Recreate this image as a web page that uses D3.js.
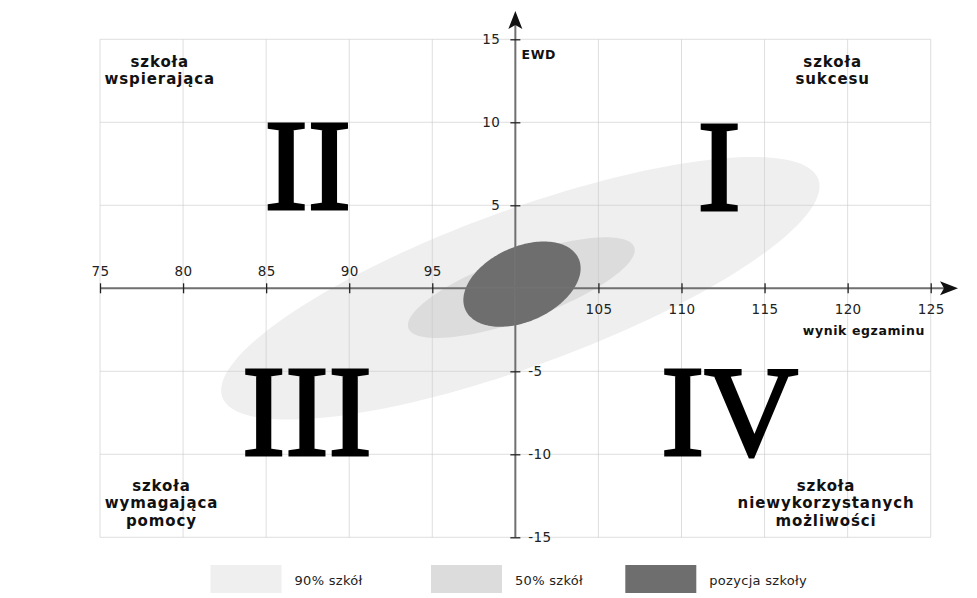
<!DOCTYPE html>
<html><head><meta charset="utf-8">
<script src="https://cdn.jsdelivr.net/npm/d3@7"></script>
<style>
html,body{margin:0;padding:0;background:#fff;}
svg{display:block;}
text{font-family:"DejaVu Sans",sans-serif;}
</style></head>
<body>
<svg id="chart" width="977" height="598"></svg>
<script>
// ---- data ----
const xDomain = [75, 125];
const yDomain = [-15, 15];
const xTicksLeft = [75, 80, 85, 90, 95];
const xTicksRight = [105, 110, 115, 120, 125];
const yTicksUpper = [15, 10, 5];
const yTicksLower = [-5, -10, -15];
const gridX = [75, 80, 85, 90, 95, 100, 105, 110, 115, 120, 125];
const gridY = [-15, -10, -5, 0, 5, 10, 15];

// ellipses: center, semi-axes, rotation
const ellipseNames = ["90% szkół", "50% szkół", "pozycja szkoły"];
const ellipseCenterX = [100.3, 100.36, 100.4];
const ellipseCenterY = [0.0, 0.04, 0.25];
const ellipseA = [19.1, 7.22, 3.74];
const ellipseB = [4.7, 1.91, 2.25];
const ellipseAngle = [20.1, 19.75, 24.5];
const ellipseColors = ["#efefef", "#dcdcdc", "#6e6e6e"];

const romanLabels = ["I", "II", "III", "IV"];
const romanX = [112.27, 87.51, 87.45, 112.9];
const romanY = [4.72, 4.77, -10.07, -10.07];

const quadrantLines = [
  ["szkoła", "wspierająca"],
  ["szkoła", "sukcesu"],
  ["szkoła", "wymagająca", "pomocy"],
  ["szkoła", "niewykorzystanych", "możliwości"]
];
const quadrantX = [78.6, 119.1, 78.7, 118.7];
const quadrantY = [13.35, 13.35, -12.2, -12.2];

const xAxisTitle = "wynik egzaminu";
const yAxisTitle = "EWD";

// ---- drawing ----
const svg = d3.select("#chart");
const x = d3.scaleLinear().domain(xDomain).range([100, 930.7]);
const y = d3.scaleLinear().domain(yDomain).range([537.3, 39.3]);
const X0 = x(100), Y0 = y(0);

// ellipses
const line = d3.line().x(d => x(d[0])).y(d => y(d[1])).curve(d3.curveLinearClosed);
ellipseNames.forEach((n, i) => {
  const th = ellipseAngle[i] * Math.PI / 180;
  const pts = d3.range(0, 360, 2).map(deg => {
    const t = deg * Math.PI / 180;
    const ex = ellipseA[i] * Math.cos(t), ey = ellipseB[i] * Math.sin(t);
    return [ellipseCenterX[i] + ex * Math.cos(th) - ey * Math.sin(th),
            ellipseCenterY[i] + ex * Math.sin(th) + ey * Math.cos(th)];
  });
  svg.append("path").attr("d", line(pts)).attr("fill", ellipseColors[i]);
});

// grid
const grid = svg.append("g").attr("stroke", "#c8c8c8").attr("stroke-opacity", 0.6).attr("stroke-width", 1);
grid.selectAll("line.v").data(gridX).join("line")
  .attr("x1", d => x(d)).attr("x2", d => x(d)).attr("y1", y(15)).attr("y2", y(-15));
grid.selectAll("line.h").data(gridY).join("line")
  .attr("y1", d => y(d)).attr("y2", d => y(d)).attr("x1", x(75)).attr("x2", x(125));

// roman numerals
svg.append("g").selectAll("text").data(romanLabels).join("text")
  .attr("x", (d, i) => x(romanX[i])).attr("y", (d, i) => y(romanY[i]))
  .attr("text-anchor", "middle")
  .style("font-family", "'Liberation Serif','Times New Roman',serif")
  .style("font-size", "130px").attr("fill", "#000")
  .attr("stroke", "#000").attr("stroke-width", 3).attr("stroke-linejoin", "miter")
  .text(d => d);

// quadrant labels
quadrantLines.forEach((lines, i) => {
  const t = svg.append("text").attr("text-anchor", "middle")
    .style("font-size", "15px").style("font-weight", "bold").style("letter-spacing", "0.9px")
    .attr("fill", "#111");
  lines.forEach((l, j) => {
    t.append("tspan").attr("x", x(quadrantX[i])).attr("y", y(quadrantY[i]) + j * 17.6).text(l);
  });
});

// axes lines
const axisColor = "#707070";
svg.append("line").attr("x1", x(75)).attr("x2", 944).attr("y1", Y0).attr("y2", Y0)
  .attr("stroke", axisColor).attr("stroke-width", 2);
svg.append("line").attr("x1", X0).attr("x2", X0).attr("y1", y(-15)).attr("y2", 24)
  .attr("stroke", axisColor).attr("stroke-width", 2);
// arrowheads
svg.append("path").attr("d", `M${958},${Y0} L${940},${Y0-7} L${944},${Y0} L${940},${Y0+7} Z`).attr("fill", "#111");
svg.append("path").attr("d", `M${X0},${11} L${X0-7},${29} L${X0},${25} L${X0+7},${29} Z`).attr("fill", "#111");

const fmt = d => d.toString();
function styleAxis(g) {
  g.select(".domain").remove();
  g.selectAll(".tick line").attr("stroke", "#222").attr("stroke-width", 1.3);
  g.selectAll(".tick text").style("font-family", "'DejaVu Sans',sans-serif")
    .style("font-size", "13.5px").style("letter-spacing", "0.4px").attr("fill", "#222");
}
const gxl = svg.append("g").attr("transform", `translate(0,${Y0})`)
  .call(d3.axisTop(x).tickValues(xTicksLeft).tickFormat(fmt).tickSize(5).tickPadding(7));
styleAxis(gxl); gxl.selectAll(".tick line").attr("y1", 5).attr("y2", -5);
const gxr = svg.append("g").attr("transform", `translate(0,${Y0})`)
  .call(d3.axisBottom(x).tickValues(xTicksRight).tickFormat(fmt).tickSize(5).tickPadding(11.5));
styleAxis(gxr); gxr.selectAll(".tick line").attr("y1", -5).attr("y2", 5);
const gyu = svg.append("g").attr("transform", `translate(${X0},0)`)
  .call(d3.axisLeft(y).tickValues(yTicksUpper).tickFormat(fmt).tickSize(5).tickPadding(10));
styleAxis(gyu); gyu.selectAll(".tick line").attr("x1", 5).attr("x2", -5);
const gyl = svg.append("g").attr("transform", `translate(${X0},0)`)
  .call(d3.axisRight(y).tickValues(yTicksLower).tickFormat(fmt).tickSize(5).tickPadding(8));
styleAxis(gyl); gyl.selectAll(".tick line").attr("x1", -5).attr("x2", 5);

// axis titles
svg.append("text").attr("x", 925).attr("y", 335).attr("text-anchor", "end")
  .style("font-size", "12.5px").style("font-weight", "bold").style("letter-spacing", "0.6px")
  .attr("fill", "#111").text(xAxisTitle);
svg.append("text").attr("x", 521.5).attr("y", 59).attr("text-anchor", "start")
  .style("font-size", "12.5px").style("font-weight", "bold").style("letter-spacing", "0.6px")
  .attr("fill", "#111").text(yAxisTitle);

// legend
const legendX = [210.5, 431, 625.3];
const legend = svg.append("g");
ellipseNames.forEach((n, i) => {
  legend.append("rect").attr("x", legendX[i]).attr("y", 565).attr("width", 71).attr("height", 28)
    .attr("fill", ellipseColors[i]);
  legend.append("text").attr("x", legendX[i] + 84).attr("y", 585)
    .style("font-size", "13px").style("letter-spacing", "0.3px").attr("fill", "#222").text(n);
});
</script>
</body></html>
